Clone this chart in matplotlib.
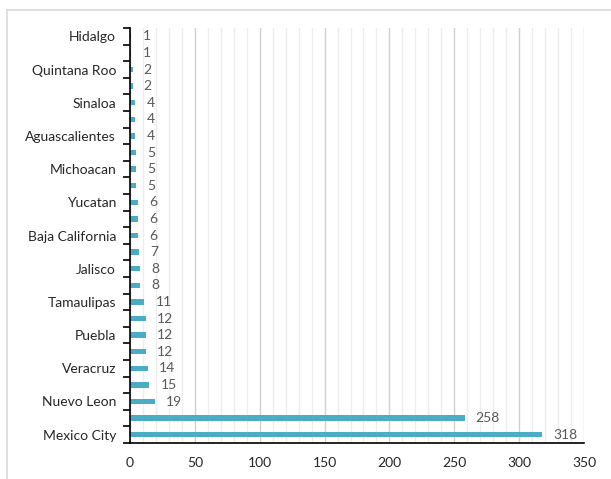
import matplotlib
matplotlib.use("Agg")
import matplotlib.pyplot as plt
from matplotlib.lines import Line2D
from matplotlib.ticker import MultipleLocator, FixedLocator
import numpy as np

plt.rcParams['font.family'] = ['Lato', 'DejaVu Sans']

# States listed top to bottom; only every other one carries a label
states = ["Hidalgo", "", "Quintana Roo", "", "Sinaloa", "", "Aguascalientes", "",
          "Michoacan", "", "Yucatan", "", "Baja California", "", "Jalisco", "",
          "Tamaulipas", "", "Puebla", "", "Veracruz", "", "Nuevo Leon", "",
          "Mexico City"]
counts = [1, 1, 2, 2, 4, 4, 4, 5, 5, 5, 6, 6, 6, 7, 8, 8, 11, 12, 12, 12,
          14, 15, 19, 258, 318]
x_ticks = [0, 50, 100, 150, 200, 250, 300, 350]

bar_color = "#4BACC6"
text_color = "#595959"

fig = plt.figure(figsize=(6.11, 4.79), dpi=100)
ax = fig.add_axes([130 / 611, 1 - 443 / 479, 454 / 611, 415 / 479])

pos = np.arange(len(states))
ax.barh(pos, counts, height=0.33, color=bar_color, zorder=3)
ax.set_ylim(len(states) - 0.5, -0.5)
ax.set_xlim(0, 350)

for p, v in zip(pos, counts):
    ax.annotate(str(v), xy=(v, p), xytext=(8, 0), textcoords="offset points",
                ha="left", va="center", fontsize=10, color=text_color, zorder=4)

# y axis: labels at category centres, tick marks at boundaries
ax.set_yticks(pos)
ax.set_yticklabels(states, fontsize=10, color="#262626")
ax.tick_params(axis="y", which="major", length=0, pad=10)
ax.yaxis.set_minor_locator(FixedLocator(np.arange(-0.5, len(states), 1.0)))
ax.tick_params(axis="y", which="minor", length=5, width=1.2, color="black", direction="out")

# x axis
ax.set_xticks(x_ticks)
ax.set_xticklabels([str(t) for t in x_ticks], fontsize=10, color="#262626")
ax.tick_params(axis="x", which="both", length=0, pad=10)
ax.xaxis.set_minor_locator(MultipleLocator(10))
ax.grid(axis="x", which="major", color="#D0D0D0", linewidth=1.0, zorder=0)
ax.grid(axis="x", which="minor", color="#EDEDED", linewidth=1.0, zorder=0)
ax.grid(axis="y", visible=False)

for side in ("top", "right"):
    ax.spines[side].set_visible(False)
for side in ("left", "bottom"):
    ax.spines[side].set_color("black")
    ax.spines[side].set_linewidth(1.2)
    ax.spines[side].set_zorder(5)

# chart area border
bx, by = 7 / 611, 1 - 10 / 479
fig.add_artist(Line2D([bx, 1], [by, by], transform=fig.transFigure, color="#D9D9D9", lw=1.2))
fig.add_artist(Line2D([bx, bx], [0, by], transform=fig.transFigure, color="#D9D9D9", lw=1.2))

fig.savefig("out.png", dpi=100)
